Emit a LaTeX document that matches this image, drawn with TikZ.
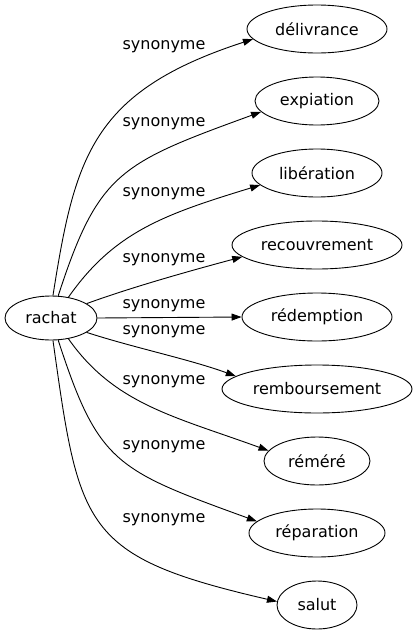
\documentclass[tikz,border=0pt]{standalone}
\usepackage{fontspec}
\setmainfont{DejaVu Sans}
\usetikzlibrary{shapes.geometric,arrows.meta}
\begin{document}
\begin{tikzpicture}[x=1pt,y=1pt,
  word/.style={ellipse,draw,line width=0.9pt,inner sep=0pt,minimum height=48pt,font=\fontsize{16}{19}\selectfont},
  lbl/.style={inner sep=0pt,font=\fontsize{16}{19}\selectfont},
  edge/.style={line width=0.9pt,-{Triangle[length=10pt,width=7pt]}}]
\useasboundingbox (0,0) rectangle (417,-635);
\node[word,minimum width=92pt,minimum height=44pt] (r) at (51,-318) {rachat};
\node[word,minimum width=140pt] (d) at (317,-29) {délivrance};
\node[word,minimum width=124pt] (e) at (317,-101) {expiation};
\node[word,minimum width=130pt] (l) at (317,-173) {libération};
\node[word,minimum width=170pt] (rc) at (317,-245) {recouvrement};
\node[word,minimum width=150pt] (rd) at (317,-317) {rédemption};
\node[word,minimum width=190pt] (rb) at (317,-389) {remboursement};
\node[word,minimum width=106pt] (rm) at (317,-461) {réméré};
\node[word,minimum width=136pt] (rp) at (317,-533) {réparation};
\node[word,minimum width=80pt] (s) at (317,-605) {salut};
\node[lbl] (l1) at (164,-47) {synonyme};
\node[lbl] (l2) at (164,-124) {synonyme};
\node[lbl] (l3) at (164,-194) {synonyme};
\node[lbl] (l4) at (164,-260) {synonyme};
\node[lbl] (l5) at (164,-306) {synonyme};
\node[lbl] (l6) at (164,-332) {synonyme};
\node[lbl] (l7) at (164,-382) {synonyme};
\node[lbl] (l8) at (164,-447) {synonyme};
\node[lbl] (l9) at (164,-520) {synonyme};
\draw[edge] (r.85) .. controls +(81:140) and +(198:170) .. (d.189);
\draw[edge] (r.72) .. controls +(72:130) and +(200:150) .. (e.191);
\draw[edge] (r.50) .. controls +(55:80) and +(197:100) .. (l.192);
\draw[edge] (r.22) .. controls +(20:50) and +(195:50) .. (rc.189);
\draw[edge] (r.east) -- (rd.west);
\draw[edge] (r.-22) .. controls +(-18:50) and +(160:50) .. (rb.171);
\draw[edge] (r.-50) .. controls +(-55:80) and +(160:100) .. (rm.168);
\draw[edge] (r.-72) .. controls +(-72:130) and +(160:150) .. (rp.169);
\draw[edge] (r.-85) .. controls +(-82:190) and +(167:200) .. (s.175);
\end{tikzpicture}
\end{document}
